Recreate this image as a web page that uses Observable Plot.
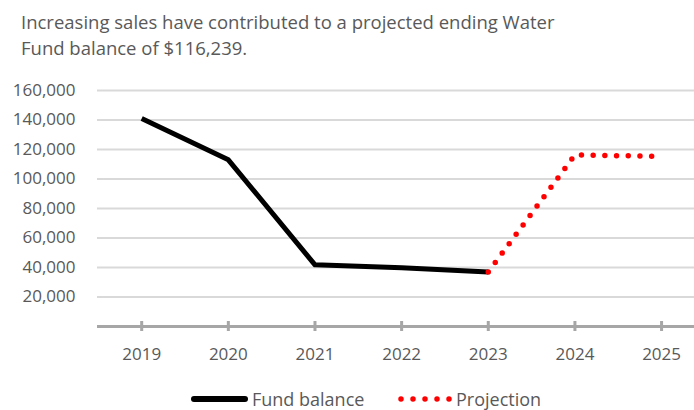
<!DOCTYPE html>
<html>
<head>
<meta charset="utf-8">
<script src="https://cdn.jsdelivr.net/npm/d3@7"></script>
<script src="https://cdn.jsdelivr.net/npm/@observablehq/plot@0.6"></script>
<style>
  html, body { margin: 0; padding: 0; background: #fff; }
  body { width: 694px; height: 410px; overflow: hidden; font-family: "Open Sans", sans-serif; color: #595959; position: relative; }
  #title { font-size: 18.5px; line-height: 26px; padding: 9px 0 0 21px; height: 57px; white-space: nowrap; }
  #chart svg { display: block; }
  #legend { position: absolute; left: 0; top: 385px; width: 694px; height: 25px; font-size: 18px; }
  .lg { position: absolute; top: 0; white-space: nowrap; line-height: 28px; }
</style>
</head>
<body>
<div id="title"></div>
<div id="chart"></div>
<div id="legend"></div>
<script>
const titleLines = ["Increasing sales have contributed to a projected ending Water", "Fund balance of $116,239."];
const years = [2019, 2020, 2021, 2022, 2023, 2024, 2025];
const fundYears = [2019, 2020, 2021, 2022, 2023];
const fundValues = [141000, 113000, 41800, 39800, 37000];
const projYears = [2023, 2024, 2025];
const projValues = [37000, 116300, 115300];
const yTicks = [20000, 40000, 60000, 80000, 100000, 120000, 140000, 160000];
const seriesNames = ["Fund balance", "Projection"];

document.getElementById("title").innerHTML = titleLines.join("<br>");

const fund = fundYears.map((y, i) => ({year: y, value: fundValues[i]}));
const proj = projYears.map((y, i) => ({year: y, value: projValues[i]}));

const chart = Plot.plot({
  width: 694,
  height: 310,
  marginLeft: 97,
  marginRight: 0,
  marginTop: 24,
  marginBottom: 50,
  style: {fontFamily: "'Open Sans', sans-serif", color: "#595959", background: "white", overflow: "visible"},
  x: {domain: [2018.49, 2025.38], axis: null},
  y: {domain: [0, 160000], axis: null},
  marks: [
    Plot.ruleY(yTicks, {stroke: "#d9d9d9", strokeWidth: 2}),
    Plot.ruleY([0], {stroke: "#a6a6a6", strokeWidth: 3}),
    Plot.ruleX(years, {x: d => d, y1: 0, y2: 0, insetTop: -5, insetBottom: -5, stroke: "#a6a6a6", strokeWidth: 3}),
    Plot.axisY(yTicks, {label: null, tickSize: 0, tickPadding: 22, tickFormat: d3.format(","), fontSize: 17, fill: "#595959"}),
    Plot.axisX(years, {label: null, tickSize: 0, tickPadding: 21, tickFormat: d => String(d), fontSize: 17, fill: "#595959"}),
    Plot.line(fund, {x: "year", y: "value", stroke: "black", strokeWidth: 5, strokeLinejoin: "round", strokeLinecap: "butt"}),
    Plot.line(proj, {x: "year", y: "value", stroke: "#ff0000", strokeWidth: 5.5, strokeDasharray: "0 11.7", strokeLinecap: "round", strokeLinejoin: "round"})
  ]
});
document.getElementById("chart").appendChild(chart);

const legend = document.getElementById("legend");
legend.innerHTML = `
  <svg class="lg" style="left:191px" width="58" height="28"><line x1="3" x2="54" y1="14" y2="14" stroke="black" stroke-width="6" stroke-linecap="round"/></svg>
  <span class="lg" style="left:252px">${seriesNames[0]}</span>
  <svg class="lg" style="left:396px" width="58" height="28"><line x1="5" x2="54" y1="14" y2="14" stroke="#ff0000" stroke-width="5.5" stroke-dasharray="0 12" stroke-linecap="round"/></svg>
  <span class="lg" style="left:456px">${seriesNames[1]}</span>`;
</script>
</body>
</html>
